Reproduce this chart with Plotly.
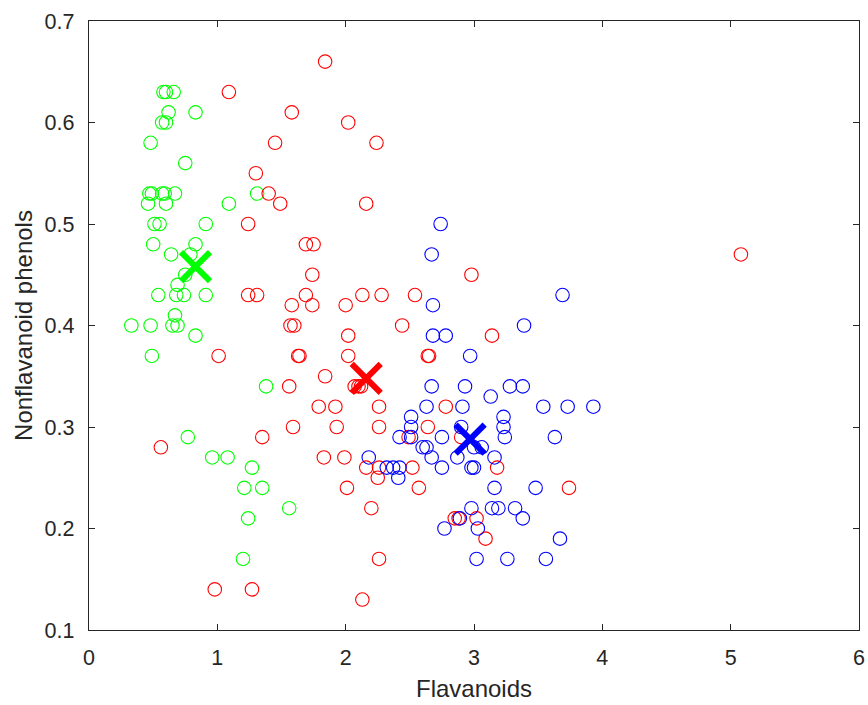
import plotly.graph_objects as go

# Cluster 1 (green): flavanoids / nonflavanoid phenols
green_flav = [0.58, 0.60, 0.66, 0.62, 0.83, 0.57, 0.60, 0.48, 0.75,
              0.47, 0.49, 0.57, 0.59, 0.67, 1.31, 0.46, 0.60, 1.09,
              0.51, 0.55, 0.91, 0.50, 0.83, 0.64, 0.79, 0.75, 0.69,
              0.54, 0.68, 0.74, 0.91, 0.67, 0.33, 0.48, 0.65, 0.69,
              0.83, 0.49, 1.38, 0.77, 0.96, 1.08, 1.27, 1.21, 1.35,
              1.56, 1.24, 1.20]
green_nonflav = [0.63, 0.63, 0.63, 0.61, 0.61, 0.60, 0.60, 0.58, 0.56,
                 0.53, 0.53, 0.53, 0.53, 0.53, 0.53, 0.52, 0.52, 0.52,
                 0.50, 0.50, 0.50, 0.48, 0.48, 0.47, 0.47, 0.45, 0.44,
                 0.43, 0.43, 0.43, 0.43, 0.41, 0.40, 0.40, 0.40, 0.40,
                 0.39, 0.37, 0.34, 0.29, 0.27, 0.27, 0.26, 0.24, 0.24,
                 0.22, 0.21, 0.17]

# Cluster 2 (red)
red_flav = [1.84, 1.09, 1.58, 2.02, 1.45, 2.24, 1.30, 1.40, 1.49, 2.16,
            1.24, 1.69, 1.75, 1.74, 2.98, 1.24, 1.31, 1.69, 2.13, 2.28,
            2.54, 1.58, 1.74, 2.00, 1.57, 1.60, 2.44, 2.02, 3.14, 1.01,
            1.63, 1.64, 2.02, 2.64, 2.65, 1.84, 1.56, 2.07, 2.10, 2.12,
            1.79, 1.92, 2.26, 2.78, 1.59, 1.93, 2.26, 2.64, 1.35, 2.49,
            2.90, 0.56, 1.83, 1.99, 2.16, 2.26, 2.52, 3.18, 2.25, 2.01,
            2.57, 3.74, 2.20, 2.85, 2.88, 3.02, 3.09, 2.26, 0.98, 1.27,
            2.13, 5.08]
red_nonflav = [0.66, 0.63, 0.61, 0.60, 0.58, 0.58, 0.55, 0.53, 0.52, 0.52,
               0.50, 0.48, 0.48, 0.45, 0.45, 0.43, 0.43, 0.43, 0.43, 0.43,
               0.43, 0.42, 0.42, 0.42, 0.40, 0.40, 0.40, 0.39, 0.39, 0.37,
               0.37, 0.37, 0.37, 0.37, 0.37, 0.35, 0.34, 0.34, 0.34, 0.34,
               0.32, 0.32, 0.32, 0.32, 0.30, 0.30, 0.30, 0.30, 0.29, 0.29,
               0.29, 0.28, 0.27, 0.27, 0.26, 0.26, 0.26, 0.26, 0.25, 0.24,
               0.24, 0.24, 0.22, 0.21, 0.21, 0.21, 0.19, 0.17, 0.14, 0.14,
               0.13, 0.47]

# Cluster 3 (blue)
blue_flav = [2.74, 2.67, 3.69, 2.68, 3.39, 2.68, 2.78, 2.97, 2.67, 2.93,
             3.28, 3.38, 3.13, 2.63, 2.91, 3.54, 3.73, 3.93, 2.51, 3.23,
             2.51, 2.90, 3.23, 2.42, 2.51, 2.75, 3.24, 3.63, 2.60, 2.63,
             3.00, 3.06, 2.18, 2.67, 2.87, 3.16, 2.32, 2.37, 2.42, 2.75,
             2.98, 3.00, 2.41, 3.16, 3.48, 2.98, 3.14, 3.19, 3.32, 2.89,
             3.38, 2.77, 3.03, 3.67, 3.02, 3.26, 3.56]
blue_nonflav = [0.50, 0.47, 0.43, 0.42, 0.40, 0.39, 0.39, 0.37, 0.34, 0.34,
                0.34, 0.34, 0.33, 0.32, 0.32, 0.32, 0.32, 0.32, 0.31, 0.31,
                0.30, 0.30, 0.30, 0.29, 0.29, 0.29, 0.29, 0.29, 0.28, 0.28,
                0.28, 0.28, 0.27, 0.27, 0.27, 0.27, 0.26, 0.26, 0.26, 0.26,
                0.26, 0.26, 0.25, 0.24, 0.24, 0.22, 0.22, 0.22, 0.22, 0.21,
                0.21, 0.20, 0.20, 0.19, 0.17, 0.17, 0.17]

# Cluster centroids (green, red, blue)
centroid_flav = [0.83, 2.16, 2.97]
centroid_nonflav = [0.458, 0.348, 0.288]
cluster_colors = ["#00FF00", "#FF0000", "#0000FF"]

fig = go.Figure()

groups = [(green_flav, green_nonflav), (red_flav, red_nonflav), (blue_flav, blue_nonflav)]
for (xs, ys), col in zip(groups, cluster_colors):
    fig.add_trace(go.Scatter(
        x=xs, y=ys, mode="markers",
        marker=dict(symbol="circle-open", size=13.5, color=col, line=dict(width=1.1, color=col)),
        showlegend=False, hoverinfo="x+y",
    ))

for cx, cy, col in zip(centroid_flav, centroid_nonflav, cluster_colors):
    fig.add_trace(go.Scatter(
        x=[cx], y=[cy], mode="markers",
        marker=dict(symbol="x-thin", size=29, color=col, line=dict(width=6, color=col)),
        showlegend=False,
    ))

axis_color = "#262626"
font_family = "Liberation Sans, Arial, Helvetica, sans-serif"
common = dict(
    showline=True, linecolor=axis_color, linewidth=1.4, mirror="ticks",
    ticks="inside", ticklen=6, tickwidth=1.4, tickcolor=axis_color,
    showgrid=False, zeroline=False,
    tickfont=dict(family=font_family, size=21.5, color=axis_color),
)

fig.update_xaxes(
    range=[0, 6], tickvals=[0, 1, 2, 3, 4, 5, 6],
    ticklabelstandoff=8,
    title=dict(text="Flavanoids", standoff=11,
               font=dict(family=font_family, size=24, color=axis_color)),
    **common,
)
fig.update_yaxes(
    range=[0.1, 0.7], tickvals=[0.1, 0.2, 0.3, 0.4, 0.5, 0.6, 0.7],
    ticktext=["0.1", "0.2", "0.3", "0.4", "0.5", "0.6", "0.7"],
    ticklabelstandoff=9,
    title=dict(text="Nonflavanoid phenols", standoff=5,
               font=dict(family=font_family, size=24, color=axis_color)),
    **common,
)

fig.update_layout(
    width=868, height=705,
    margin=dict(l=89, r=9, t=21, b=75, autoexpand=False),
    plot_bgcolor="white", paper_bgcolor="white",
)

fig.write_html("out.html")
